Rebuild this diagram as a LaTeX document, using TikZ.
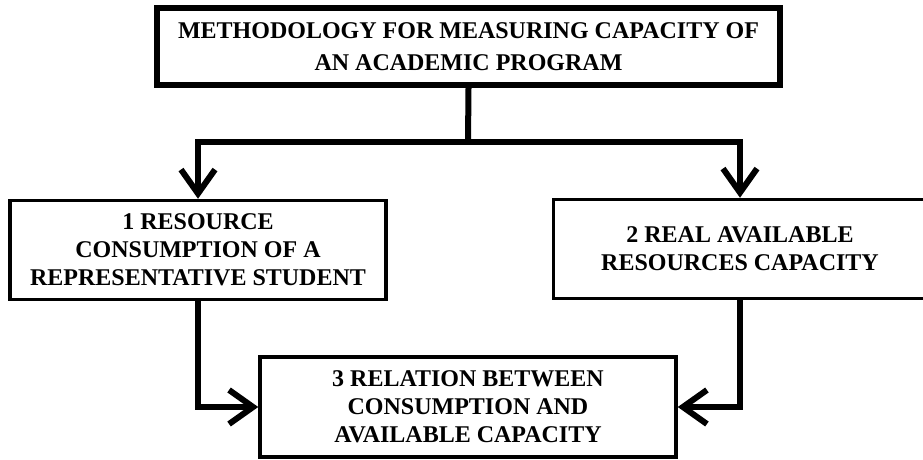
\documentclass[tikz,border=0pt]{standalone}
\usepackage{fontspec}
\setmainfont{Liberation Serif}
\usetikzlibrary{arrows.meta}
\begin{document}
\begin{tikzpicture}
	[x=1pt,y=-1pt,
	box/.style={draw,line width=3.5pt,align=center,inner sep=0pt,
		font=\bfseries\fontsize{24}{28}\selectfont},
	link/.style={line width=6pt,
		-{Straight Barb[length=24pt,width=34pt,line width=6pt]}}]
	\useasboundingbox (0,0) rectangle (923,460);
	\node[box,line width=6pt,minimum width=623pt,minimum height=77pt,
		font=\bfseries\fontsize{24}{32}\selectfont] (method) at (468.5,46.5)
		{METHODOLOGY FOR MEASURING CAPACITY OF\\AN ACADEMIC PROGRAM};
	\node[box,minimum width=376pt,minimum height=99pt] (consumption) at (198,250)
		{1 RESOURCE\\CONSUMPTION OF A\\REPRESENTATIVE STUDENT};
	\node[box,minimum width=373pt,minimum height=99pt] (resources) at (740,249)
		{2 REAL AVAILABLE\\RESOURCES CAPACITY};
	\node[box,minimum width=416pt,minimum height=100pt] (relation) at (468,407)
		{3 RELATION BETWEEN\\CONSUMPTION AND\\AVAILABLE CAPACITY};
	\coordinate (split) at (468,142);
	\draw[line width=6pt] (method.south) -- (split);
	\draw[link] (split) -| (consumption.north);
	\draw[link] (split) -| (resources.north);
	\draw[link] (consumption.south) |- (relation.west);
	\draw[link] (resources.south) |- (relation.east);
\end{tikzpicture}
\end{document}
